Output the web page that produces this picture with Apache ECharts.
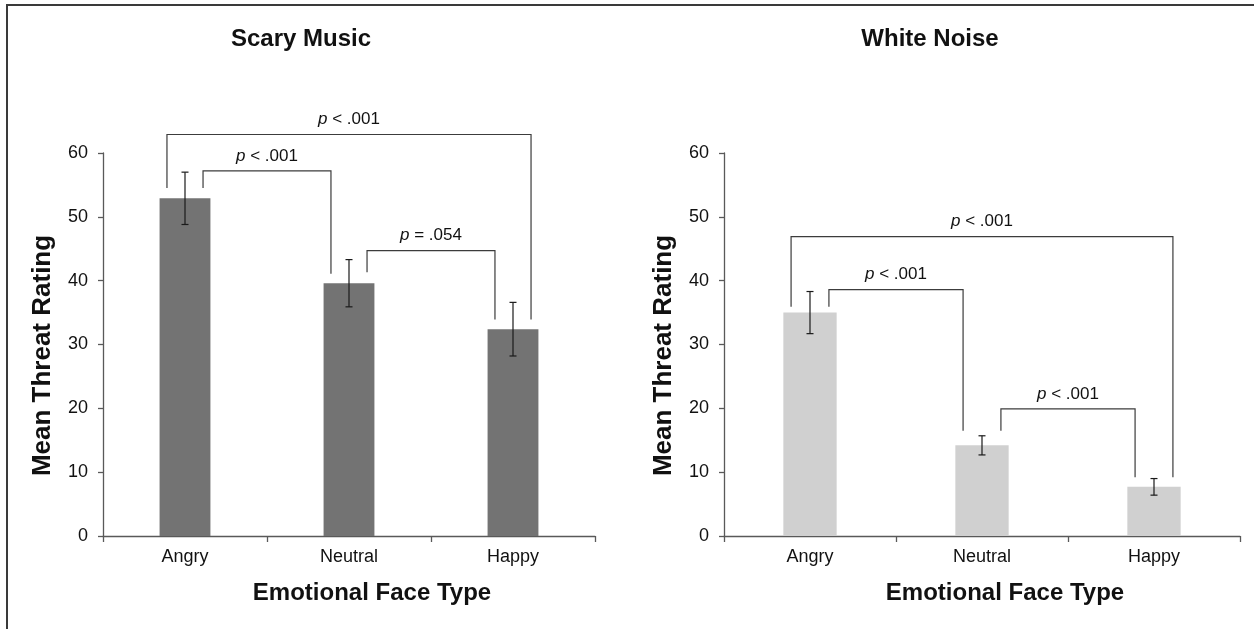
<!DOCTYPE html>
<html>
<head>
<meta charset="utf-8">
<script src="https://cdn.jsdelivr.net/npm/echarts@6/dist/echarts.min.js"></script>
<style>
  html, body { margin: 0; padding: 0; background: #fff; }
  #chart { width: 1254px; height: 629px; }
</style>
</head>
<body>
<div id="chart"></div>
<script>
// Category labels shared by both panels
const faceTypes = ['Angry', 'Neutral', 'Happy'];

// Scary Music panel: mean threat rating and error-bar half-widths
const scaryMeans = [52.9, 39.6, 32.4];
const scaryErrors = [4.1, 3.7, 4.2];

// White Noise panel
const noiseMeans = [35.0, 14.2, 7.7];
const noiseErrors = [3.3, 1.5, 1.3];

// Significance brackets: [from category, to category, bracket height, left leg end, right leg end, label]
const scaryBrackets = [
  [0, 2, 62.9, 54.5, 33.9, 'p < .001'],
  [0, 1, 57.2, 54.5, 41.1, 'p < .001'],
  [1, 2, 44.7, 41.3, 33.9, 'p = .054']
];
const noiseBrackets = [
  [0, 2, 46.9, 35.9, 9.2, 'p < .001'],
  [0, 1, 38.6, 35.9, 16.5, 'p < .001'],
  [1, 2, 19.9, 16.5, 9.2, 'p < .001']
];

const FONT = "'Liberation Sans', Arial, sans-serif";
const INK = '#111';
const AXIS = '#595959';

function errorBarRender(means, errors) {
  return function (params, api) {
    const i = params.dataIndex;
    const x = api.coord([i, 0])[0];
    const hi = api.coord([i, means[i] + errors[i]])[1];
    const lo = api.coord([i, means[i] - errors[i]])[1];
    const cap = 3.5;
    const style = { stroke: '#1a1a1a', lineWidth: 1.2, fill: null };
    return {
      type: 'group',
      children: [
        { type: 'line', shape: { x1: x, y1: hi, x2: x, y2: lo }, style },
        { type: 'line', shape: { x1: x - cap, y1: hi, x2: x + cap, y2: hi }, style },
        { type: 'line', shape: { x1: x - cap, y1: lo, x2: x + cap, y2: lo }, style }
      ]
    };
  };
}

function bracketRender(brackets) {
  return function (params, api) {
    const b = brackets[params.dataIndex];
    const band = api.size([1, 0])[0];
    const off = band * 0.11;
    const wide = (b[1] - b[0]) > 1;
    const x1 = api.coord([b[0], 0])[0] + (wide ? -off : off);
    const x2 = api.coord([b[1], 0])[0] + (wide ? off : -off);
    const top = api.coord([b[0], b[2]])[1];
    const y1 = api.coord([b[0], b[3]])[1];
    const y2 = api.coord([b[1], b[4]])[1];
    const txt = b[5];
    return {
      type: 'group',
      children: [
        {
          type: 'polyline',
          shape: { points: [[x1, y1], [x1, top], [x2, top], [x2, y2]] },
          style: { stroke: '#3c3c3c', lineWidth: 1.2, fill: null }
        },
        {
          type: 'text',
          x: (x1 + x2) / 2,
          y: top - 15,
          style: {
            text: '{i|' + txt.charAt(0) + '}' + txt.slice(1),
            rich: { i: { fontStyle: 'italic', fontSize: 17, fontFamily: FONT, fill: INK } },
            fontSize: 17,
            fontFamily: FONT,
            fill: INK,
            align: 'center',
            verticalAlign: 'middle'
          }
        }
      ]
    };
  };
}

function xAxisFor(gridIndex) {
  return {
    type: 'category',
    gridIndex,
    data: faceTypes,
    name: 'Emotional Face Type',
    nameLocation: 'middle',
    nameGap: 45,
    nameTextStyle: { fontSize: 24, fontWeight: 'bold', fontFamily: FONT, color: INK, padding: [0, 0, 0, 46] },
    axisLine: { lineStyle: { color: AXIS, width: 1.3 } },
    axisTick: { show: true, length: 6, lineStyle: { color: AXIS, width: 1.3 } },
    axisLabel: { fontSize: 18, fontFamily: FONT, color: INK, margin: 12 }
  };
}

function yAxisFor(gridIndex) {
  return {
    type: 'value',
    gridIndex,
    min: 0,
    max: 60,
    interval: 10,
    name: 'Mean Threat Rating',
    nameLocation: 'middle',
    nameGap: 47,
    nameTextStyle: { fontSize: 26, fontWeight: 'bold', fontFamily: FONT, color: INK, padding: [0, 22, 0, 0] },
    axisLine: { show: true, lineStyle: { color: AXIS, width: 1.3 } },
    axisTick: { show: true, length: 5, lineStyle: { color: AXIS, width: 1.3 } },
    axisLabel: { fontSize: 18, fontFamily: FONT, color: INK, margin: 15 },
    splitLine: { show: false }
  };
}

const chart = echarts.init(document.getElementById('chart'), null, { renderer: 'canvas' });

chart.setOption({
  animation: false,
  backgroundColor: '#fff',
  title: [
    { text: 'Scary Music', left: 301, top: 27, textAlign: 'center', padding: 0,
      textStyle: { fontSize: 24, fontWeight: 'bold', fontFamily: FONT, color: INK } },
    { text: 'White Noise', left: 930, top: 27, textAlign: 'center', padding: 0,
      textStyle: { fontSize: 24, fontWeight: 'bold', fontFamily: FONT, color: INK } }
  ],
  grid: [
    { left: 103, right: 659, top: 153, bottom: 93 },
    { left: 724, right: 14, top: 153, bottom: 93 }
  ],
  xAxis: [xAxisFor(0), xAxisFor(1)],
  yAxis: [yAxisFor(0), yAxisFor(1)],
  graphic: [
    {
      type: 'polyline',
      shape: { points: [[7, 629], [7, 5], [1254, 5]] },
      style: { stroke: '#3a3a3a', lineWidth: 2, fill: null },
      silent: true
    }
  ],
  series: [
    {
      type: 'bar', xAxisIndex: 0, yAxisIndex: 0,
      data: scaryMeans, barWidth: '31%',
      itemStyle: { color: '#737373' }
    },
    {
      type: 'custom', xAxisIndex: 0, yAxisIndex: 0,
      data: scaryMeans.map((m, i) => [i, m]),
      renderItem: errorBarRender(scaryMeans, scaryErrors),
      z: 5
    },
    {
      type: 'custom', xAxisIndex: 0, yAxisIndex: 0, clip: false,
      data: scaryBrackets.map(b => [b[0], b[2]]),
      renderItem: bracketRender(scaryBrackets),
      z: 6
    },
    {
      type: 'bar', xAxisIndex: 1, yAxisIndex: 1,
      data: noiseMeans, barWidth: '31%',
      itemStyle: { color: '#d0d0d0' }
    },
    {
      type: 'custom', xAxisIndex: 1, yAxisIndex: 1,
      data: noiseMeans.map((m, i) => [i, m]),
      renderItem: errorBarRender(noiseMeans, noiseErrors),
      z: 5
    },
    {
      type: 'custom', xAxisIndex: 1, yAxisIndex: 1, clip: false,
      data: noiseBrackets.map(b => [b[0], b[2]]),
      renderItem: bracketRender(noiseBrackets),
      z: 6
    }
  ]
});
</script>
</body>
</html>
